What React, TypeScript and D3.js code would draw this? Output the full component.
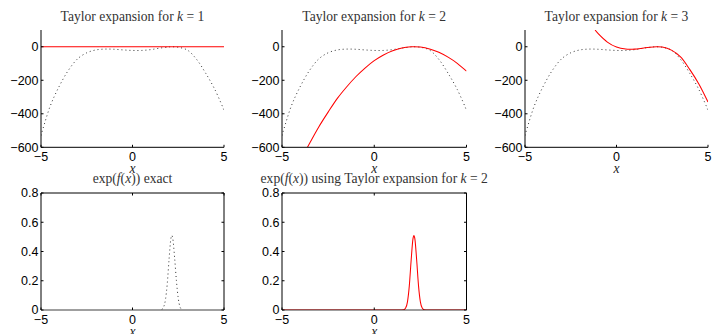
import React from 'react';
import * as d3 from 'd3';

// ---- data ----
const fX = [-5, -4.5, -4, -3.5, -3, -2.5, -2, -1.5, -1, -0.5, 0, 0.5, 1, 1.5, 2, 2.1, 2.5, 3, 3.5, 4, 4.5, 5];
const fExact = [-530, -355, -235, -140, -72, -36, -19, -14, -15, -19, -22, -22, -17, -8, -1, 0, -3, -20, -75, -158, -255, -378];

const t1X = [-5, 5];
const t1Y = [0, 0];

const t2X = [-3.62, -3, -2.5, -2, -1.5, -1, -0.5, 0, 0.5, 1, 1.5, 2, 2.15, 2.5, 3, 3.5, 4, 4.5, 5];
const t2Y = [-600, -477, -390, -308, -240, -179, -127, -83, -49, -24, -8, -0.5, 0, -2, -13, -33, -62, -99, -146];

const t3X = [-1.17, -1, -0.5, 0, 0.5, 1, 1.5, 2, 2.2, 2.5, 3, 3.5, 4, 4.5, 5];
const t3Y = [100, 78, 28, -2, -14, -14, -7, -1, 0, -2, -20, -60, -135, -222, -330];

const eX = [1.6, 1.7, 1.8, 1.9, 2.0, 2.1, 2.15, 2.2, 2.3, 2.4, 2.5, 2.6, 2.7];
const eExact = [0.004, 0.02, 0.07, 0.18, 0.35, 0.49, 0.51, 0.49, 0.36, 0.2, 0.08, 0.02, 0.003];

const gX = [-5, 1.4, 1.6, 1.7, 1.8, 1.9, 2.0, 2.1, 2.15, 2.2, 2.3, 2.4, 2.5, 2.6, 2.7, 2.9, 5];
const gY = [0, 0, 0.002, 0.013, 0.056, 0.165, 0.34, 0.488, 0.51, 0.488, 0.34, 0.165, 0.056, 0.013, 0.002, 0, 0];

const xTicks = [-5, 0, 5];
const topYTicks = [0, -200, -400, -600];
const botYTicks = [0, 0.2, 0.4, 0.6, 0.8];
const kValues = ['1', '2', '3'];

const W = 713;
const H = 334;
const SERIF = '"Liberation Serif", "DejaVu Serif", serif';
const SANS = '"Liberation Sans", Arial, sans-serif';
const TICK_FS = 12.5;
const TITLE_FS = 13.6;

const fmt = (v: number) => (v < 0 ? '\u2212' + Math.abs(v) : String(v));

type PanelProps = {
  id: string;
  x0: number; x1: number; y0: number; y1: number;
  yDomain: [number, number];
  yTicks: number[];
  box: boolean;
  children: (sx: d3.ScaleLinear<number, number>, sy: d3.ScaleLinear<number, number>) => React.ReactNode;
  title: React.ReactNode;
  titleY: number;
};

function Panel({ id, x0, x1, y0, y1, yDomain, yTicks, box, children, title, titleY }: PanelProps) {
  const sx = d3.scaleLinear().domain([-5, 5]).range([x0, x1]);
  const sy = d3.scaleLinear().domain(yDomain).range([y1, y0]);
  const tl = 2.5;
  return (
    <g>
      <defs>
        <clipPath id={id}>
          <rect x={x0} y={y0} width={x1 - x0} height={y1 - y0} />
        </clipPath>
      </defs>
      <g clipPath={`url(#${id})`}>{children(sx, sy)}</g>
      {/* axes */}
      <line x1={x0} x2={x1} y1={y1} y2={y1} stroke="#000" strokeWidth={1} opacity={box ? 0.75 : 1} />
      <line x1={x0} x2={x0} y1={y0} y2={y1} stroke="#000" strokeWidth={1} />
      {box && <line x1={x0} x2={x1} y1={y0} y2={y0} stroke="#000" strokeWidth={1} />}
      {box && <line x1={x1} x2={x1} y1={y0} y2={y1} stroke="#000" strokeWidth={1} />}
      {xTicks.map((t) => (
        <g key={'xt' + t}>
          <line x1={sx(t)} x2={sx(t)} y1={y1} y2={y1 - tl} stroke="#000" />
          {box && <line x1={sx(t)} x2={sx(t)} y1={y0} y2={y0 + tl} stroke="#000" />}
          <text x={sx(t)} y={y1 + 13.5} textAnchor="middle" fontFamily={SANS} fontSize={TICK_FS} fill="#000">
            {fmt(t)}
          </text>
        </g>
      ))}
      {yTicks.map((t) => (
        <g key={'yt' + t}>
          <line x1={x0} x2={x0 + tl} y1={sy(t)} y2={sy(t)} stroke="#000" />
          {box && <line x1={x1} x2={x1 - tl} y1={sy(t)} y2={sy(t)} stroke="#000" />}
          <text x={x0 - 2.5} y={sy(t) + 4.3} textAnchor="end" fontFamily={SANS} fontSize={TICK_FS} fill="#000">
            {fmt(t)}
          </text>
        </g>
      ))}
      <text x={(x0 + x1) / 2} y={y1 + 25.5} textAnchor="middle" fontFamily={SERIF} fontStyle="italic" fontSize={TITLE_FS} fill="#222">
        x
      </text>
      <text x={(x0 + x1) / 2} y={titleY} textAnchor="middle" fontFamily={SERIF} fontSize={TITLE_FS} fill="#333">
        {title}
      </text>
    </g>
  );
}

function makeLine(sx: any, sy: any, xs: number[], ys: number[], curve: any) {
  const pts = xs.map((x, i) => [x, ys[i]] as [number, number]);
  return d3
    .line<[number, number]>()
    .x((d) => sx(d[0]))
    .y((d) => sy(d[1]))
    .curve(curve)(pts) as string;
}

export default function App() {
  const topX = [
    [41, 224],
    [282, 466.5],
    [525, 708],
  ];
  const topY0 = 30;
  const topY1 = 147.3;
  const botY0 = 193;
  const botY1 = 310;

  const reds = [
    { xs: t1X, ys: t1Y },
    { xs: t2X, ys: t2Y },
    { xs: t3X, ys: t3Y },
  ];

  return (
    <svg width={W} height={H} style={{ position: 'absolute', left: 0, top: 0, background: '#fff' }}>
      <rect width={W} height={H} fill="#fff" />
      {topX.map((px, i) => (
        <Panel
          key={'top' + i}
          id={'ct' + i}
          x0={px[0]}
          x1={px[1]}
          y0={topY0}
          y1={topY1}
          yDomain={[-600, 100]}
          yTicks={topYTicks}
          box={false}
          titleY={21}
          title={
            <>
              Taylor expansion for <tspan fontStyle="italic">k</tspan> = {kValues[i]}
            </>
          }
        >
          {(sx, sy) => (
            <>
              <path
                d={makeLine(sx, sy, fX, fExact, d3.curveCatmullRom)}
                fill="none"
                stroke="#333"
                strokeWidth={1}
                strokeDasharray="1 3"
              />
              <path
                d={makeLine(sx, sy, reds[i].xs, reds[i].ys, d3.curveCatmullRom)}
                fill="none"
                stroke="#f00"
                strokeWidth={1.05}
              />
            </>
          )}
        </Panel>
      ))}
      <Panel
        id="cb0"
        x0={41}
        x1={224}
        y0={botY0}
        y1={botY1}
        yDomain={[0, 0.8]}
        yTicks={botYTicks}
        box={true}
        titleY={183}
        title={
          <>
            exp(<tspan fontStyle="italic">f</tspan>(<tspan fontStyle="italic">x</tspan>)) exact
          </>
        }
      >
        {(sx, sy) => (
          <path
            d={makeLine(sx, sy, eX, eExact, d3.curveMonotoneX)}
            fill="none"
            stroke="#333"
            strokeWidth={1}
            strokeDasharray="1 3"
          />
        )}
      </Panel>
      <Panel
        id="cb1"
        x0={282}
        x1={466.5}
        y0={botY0}
        y1={botY1}
        yDomain={[0, 0.8]}
        yTicks={botYTicks}
        box={true}
        titleY={183}
        title={
          <>
            exp(<tspan fontStyle="italic">f</tspan>(<tspan fontStyle="italic">x</tspan>)) using Taylor expansion for{' '}
            <tspan fontStyle="italic">k</tspan> = 2
          </>
        }
      >
        {(sx, sy) => (
          <path
            d={makeLine(sx, sy, gX, gY, d3.curveMonotoneX)}
            fill="none"
            stroke="#f00"
            strokeWidth={1.05}
          />
        )}
      </Panel>
    </svg>
  );
}
